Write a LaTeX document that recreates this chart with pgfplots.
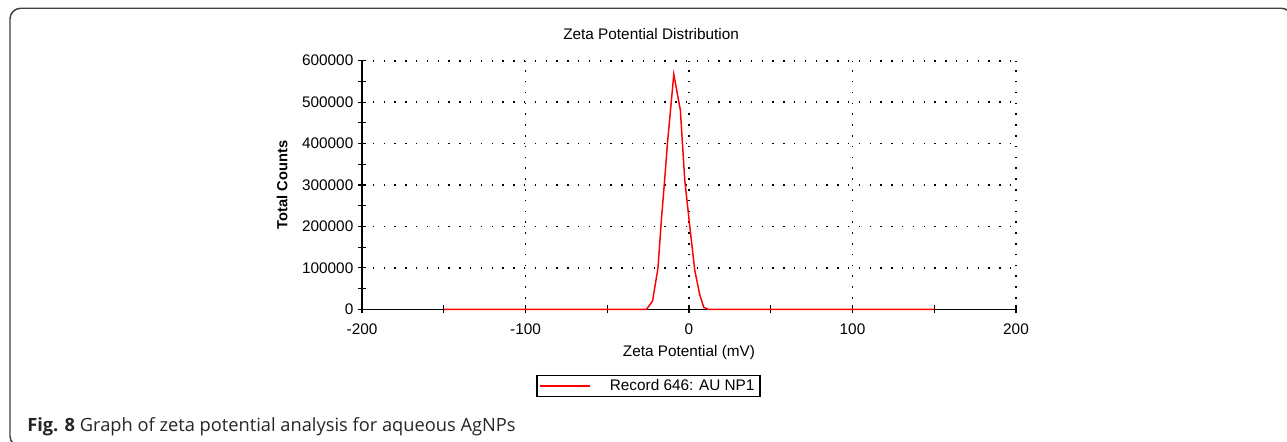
\documentclass[border=0pt]{standalone}
\usepackage{pgfplots}
\pgfplotsset{compat=1.18}
\usepackage{fontspec}
\setmainfont{Liberation Sans}
\newfontfamily\capfont{Open Sans}

\begin{document}
\begin{tikzpicture}
% page is 1287 x 442 px at 0.75pt per px
\clip (0,0) rectangle (965.25pt,-331.5pt);
\draw[line width=1.1pt, black!75, rounded corners=8pt] (7.5pt,-6.2pt) rectangle (969pt,-335pt);
\begin{axis}[
  at={(271.5pt,-231.975pt)}, anchor=south west,
  scale only axis, width=490.5pt, height=186.45pt,
  xmin=-200, xmax=200, ymin=0, ymax=600000,
  axis lines=left, axis line style={-, line width=1.1pt},
  xtick={-200,-100,0,100,200}, xticklabels={-200,-100,0,100,200},
  ytick={0,100000,200000,300000,400000,500000,600000},
  yticklabels={0,100000,200000,300000,400000,500000,600000},
  scaled y ticks=false,
  minor x tick num=1, minor y tick num=1,
  tick align=center, major tick length=6pt, minor tick length=6pt,
  tick style={black, line width=0.9pt},
  grid=major, major grid style={black, line width=1.2pt, dash pattern=on 1.1pt off 7pt},
  tick label style={font=\fontsize{11.5}{13}\selectfont},
  xticklabel style={yshift=-4.5pt},
  title={Zeta Potential Distribution},
  title style={at={(0.442,1.075)}, anchor=center, yshift=0pt, font=\fontsize{11.5}{13}\selectfont},
  xlabel={Zeta Potential (mV)},
  xlabel style={at={(0.5,-0.175)}, anchor=center, font=\fontsize{11.5}{13}\selectfont},
  ylabel={Total Counts},
  ylabel style={at={(-0.1223,0.5)}, anchor=center, rotate=0, font=\bfseries\fontsize{11}{13}\selectfont},
  legend style={at={(0.438,-0.3085)}, anchor=center, draw=black, line width=1.1pt,
    inner xsep=2pt, inner ysep=1pt, font=\fontsize{11.5}{13}\selectfont,
    /tikz/every odd column/.append style={column sep=12pt}},
  legend image code/.code={\draw[red, line width=1.1pt] (0pt,0pt) -- (37.5pt,0pt);},
  clip=false,
]
\addplot[red, line width=1.1pt] coordinates {
  (-150,0) (-26,0) (-22.3,20000) (-19,99000) (-16.9,215000) (-14.9,312000)
  (-13.2,400000) (-9.3,567000) (-5.3,481000) (-2.6,312000) (0.4,203000)
  (3.5,95000) (6.5,36000) (9,5000) (11.5,0) (150,0)
};
\addlegendentry{Record 646: AU NP1}
\end{axis}
\node[anchor=base west, inner sep=0pt, text=black!85, font=\capfont\fontsize{13.7}{16}\selectfont]
  at (20.25pt,-323.8pt) {\textbf{Fig. 8} Graph of zeta potential analysis for aqueous AgNPs};
\end{tikzpicture}
\end{document}
